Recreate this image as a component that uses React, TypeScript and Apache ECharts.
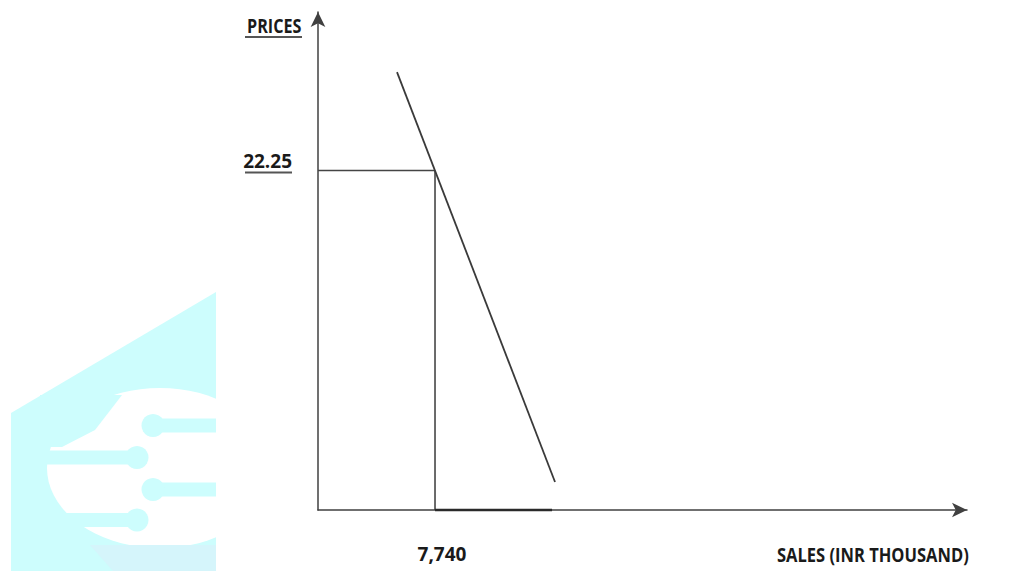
import React, { useEffect, useRef } from "react";
import * as echarts from "echarts";

// ---- data ----
const xTickValues = [7740];
const xTickLabels = ["7,740"];
const yTickValues = [22.25];
const yTickLabels = ["22.25"];
const demandSales = [5226, 15678];
const demandPrices = [28.7, 1.835];
const equilibriumSales = 7740;
const equilibriumPrice = 22.25;
const shortfallEndSales = 15480;
const xAxisMax = 42930;
const yAxisMax = 32.64;
const yAxisTitle = "PRICES";
const xAxisTitle = "SALES (INR THOUSAND)";

const FONT = "'Open Sans', 'DejaVu Sans', sans-serif";
const CYAN = "#cdfdfd";

function ellipsePoints(cx: number, cy: number, rx: number, ry: number, clipX: number) {
  const pts: number[][] = [];
  const n = 72;
  for (let i = 0; i < n; i++) {
    const t = (i / n) * Math.PI * 2;
    pts.push([Math.min(cx + rx * Math.cos(t), clipX), cy + ry * Math.sin(t)]);
  }
  return pts;
}

function watermark(): any[] {
  const clip = 216;
  const els: any[] = [];
  els.push({
    type: "polygon",
    z: -10,
    shape: { points: [[11, 413], [216, 292], [216, 571], [11, 571]] },
    style: { fill: CYAN },
  });
  els.push({
    type: "polygon",
    z: -9,
    shape: { points: ellipsePoints(160, 468, 113, 80, clip) },
    style: { fill: "#ffffff" },
  });
  els.push({
    type: "polygon",
    z: -8,
    shape: { points: [[40, 395], [122, 395], [112, 408], [95, 430], [62, 447], [40, 447]] },
    style: { fill: CYAN },
  });
  const traces = [
    { cx: 153, cy: 425.5, x0: 153, x1: clip },
    { cx: 137, cy: 457.5, x0: 40, x1: 137 },
    { cx: 153, cy: 489.5, x0: 153, x1: clip },
    { cx: 137, cy: 520, x0: 40, x1: 137 },
  ];
  traces.forEach((t) => {
    els.push({
      type: "rect",
      z: -7,
      shape: { x: t.x0, y: t.cy - 7, width: t.x1 - t.x0, height: 14 },
      style: { fill: CYAN },
    });
    els.push({
      type: "circle",
      z: -7,
      shape: { cx: t.cx, cy: t.cy, r: 11.5 },
      style: { fill: CYAN },
    });
  });
  els.push({
    type: "polygon",
    z: -7,
    shape: { points: [[90, 545], [216, 545], [216, 571], [113, 571]] },
    style: { fill: "#d5f5fb" },
  });
  return els;
}

export default function App() {
  const ref = useRef<HTMLDivElement>(null);

  useEffect(() => {
    if (!ref.current) return;
    const chart = echarts.init(ref.current, null, { renderer: "svg" });
    const option: any = {
      animation: false,
      backgroundColor: "#ffffff",
      grid: { left: 318, top: 12, right: 61, bottom: 61 },
      xAxis: {
        type: "value",
        min: 0,
        max: xAxisMax,
        splitLine: { show: false },
        axisTick: { show: false },
        axisLine: {
          show: true,
          onZero: false,
          symbol: ["none", "arrow"],
          symbolSize: [11, 15],
          lineStyle: { color: "#404040", width: 1.5 },
        },
        axisLabel: {
          customValues: xTickValues,
          formatter: (v: number) => xTickLabels[xTickValues.indexOf(v)] ?? "",
          margin: 34,
          padding: [0, 0, 0, 14],
          fontFamily: FONT,
          fontWeight: "bold",
          fontSize: 19,
          color: "#1a1a1a",
        },
      },
      yAxis: {
        type: "value",
        min: 0,
        max: yAxisMax,
        splitLine: { show: false },
        axisTick: { show: false },
        axisLine: {
          show: true,
          onZero: false,
          symbol: ["none", "arrow"],
          symbolSize: [11, 15],
          lineStyle: { color: "#404040", width: 1.5 },
        },
        axisLabel: {
          customValues: yTickValues,
          formatter: (v: number) => yTickLabels[yTickValues.indexOf(v)] ?? "",
          margin: 26,
          verticalAlign: "bottom",
          fontFamily: FONT,
          fontWeight: "bold",
          fontSize: 19,
          color: "#1a1a1a",
        },
      },
      series: [
        {
          type: "line",
          data: [
            [0, equilibriumPrice],
            [equilibriumSales, equilibriumPrice],
          ],
          symbol: "none",
          clip: false,
          lineStyle: { color: "#454545", width: 1.5 },
        },
        {
          type: "line",
          data: [
            [equilibriumSales, equilibriumPrice],
            [equilibriumSales, 0],
          ],
          symbol: "none",
          clip: false,
          lineStyle: { color: "#3a3a3a", width: 1.5 },
        },
        {
          type: "line",
          data: demandSales.map((s, i) => [s, demandPrices[i]]),
          symbol: "none",
          clip: false,
          lineStyle: { color: "#3a3a3a", width: 1.8 },
        },
        {
          type: "line",
          data: [
            [equilibriumSales, 0],
            [shortfallEndSales, 0],
          ],
          symbol: "none",
          clip: false,
          z: 5,
          lineStyle: { color: "#2a2a2a", width: 2.6 },
        },
      ],
      graphic: [
        ...watermark(),
        {
          type: "text",
          x: 247,
          y: 25.5,
          scaleX: 0.85,
          style: {
            text: yAxisTitle,
            fontFamily: FONT,
            fontWeight: "bold",
            fontSize: 19,
            fill: "#1a1a1a",
            align: "left",
            verticalAlign: "middle",
          },
        },
        {
          type: "line",
          shape: { x1: 245, y1: 37, x2: 302, y2: 37 },
          style: { stroke: "#555", lineWidth: 2 },
        },
        {
          type: "line",
          shape: { x1: 245, y1: 172.5, x2: 292, y2: 172.5 },
          style: { stroke: "#555", lineWidth: 2 },
        },
        {
          type: "text",
          x: 777,
          y: 554.5,
          scaleX: 0.87,
          style: {
            text: xAxisTitle,
            fontFamily: FONT,
            fontWeight: "bold",
            fontSize: 19,
            fill: "#1a1a1a",
            align: "left",
            verticalAlign: "middle",
          },
        },
      ],
    };
    chart.setOption(option);
    return () => chart.dispose();
  }, []);

  return (
    <div
      ref={ref}
      style={{ position: "fixed", left: 0, top: 0, width: 1028, height: 571 }}
    />
  );
}
